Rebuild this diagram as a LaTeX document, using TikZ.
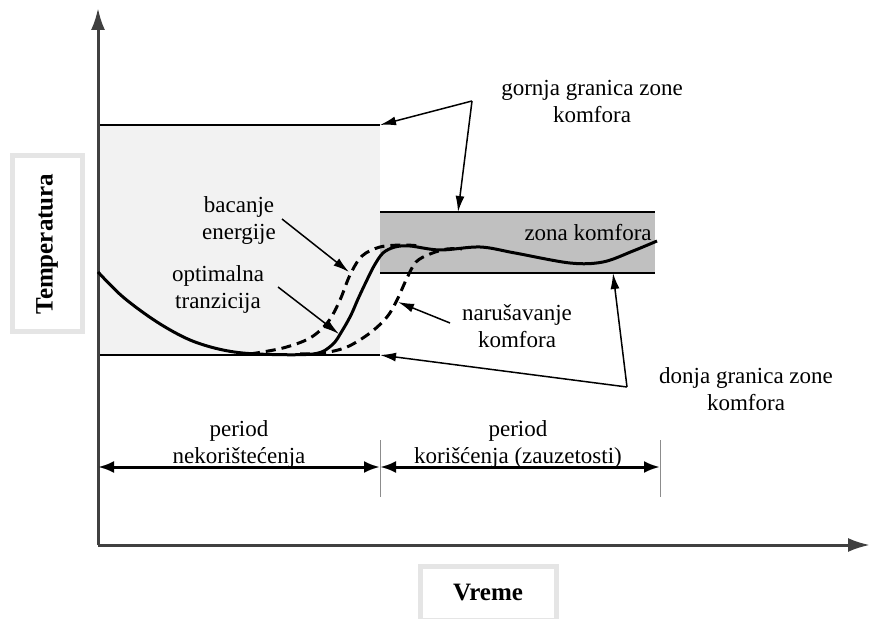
\documentclass[tikz,border=0pt]{standalone}
\usepackage{fontspec}
\setmainfont{Liberation Serif}
\usetikzlibrary{arrows.meta}
\definecolor{axisgray}{HTML}{404040}
\definecolor{idlegray}{HTML}{F2F2F2}
\definecolor{zonegray}{HTML}{C0C0C0}
\begin{document}
\begin{tikzpicture}[x=0.5pt,y=-0.5pt,
    txt/.style={align=center,inner sep=0pt,font=\fontsize{11.5}{13.5}\selectfont},
    axlabel/.style={draw=black!10,line width=2.5pt,fill=white,inner sep=0pt,font=\fontsize{12.5}{14}\selectfont\bfseries},
    axis/.style={-{Latex[length=11pt,width=7pt]},line width=1.5pt,color=axisgray},
    ptr/.style={-{Latex[length=8pt,width=4.5pt]},line width=0.75pt},
    perarrow/.style={{Latex[length=8pt,width=6pt]}-{Latex[length=8pt,width=6pt]},line width=1.5pt},
    bound/.style={line width=1pt},
    trend/.style={line width=1.5pt,line join=round}]
        \useasboundingbox (0,0) rectangle (871,619);

        % granice
        \coordinate (hiL) at (98,125);
        \coordinate (hiR) at (380,125);
        \coordinate (loL) at (98,355);
        \coordinate (loR) at (380,355);
        \coordinate (zhiL) at (380,212);
        \coordinate (zhiR) at (655,212);
        \coordinate (zloL) at (380,273);
        \coordinate (zloR) at (655,273);

        \fill[idlegray] (hiL) rectangle (loR);
        \fill[zonegray] (zhiL) rectangle (zloR);
        \draw[bound] (hiL) -- (hiR) (loL) -- (loR) (zhiL) -- (zhiR) (zloL) -- (zloR);

        % ose
        \coordinate (o) at (98,545);
        \coordinate (ytop) at (98,8);
        \coordinate (xend) at (870,545);
        \draw[axis] (o) -- (ytop);
        \draw[axis] (o) -- (xend);

        \node (temp) at (47,244) [axlabel,minimum width=88pt,minimum height=35pt,rotate=90] {Temperatura};
        \node (vreme) at (488,593) [axlabel,minimum width=68pt,minimum height=27pt] {Vreme};

        % krive
        \draw[trend] plot[smooth,tension=0.55] coordinates {(98,272) (123,297) (157,322) (190,340) (223,350) (257,354) (313,354) (332,345) (342,331) (351,315) (358,299) (366,282) (374,266) (383,253) (395,247) (410,246) (440,250) (480,247) (515,253) (570,263) (603,262) (633,251) (657,241)};
        \draw[trend,dash pattern=on 5pt off 3pt] plot[smooth,tension=0.55] coordinates {(250,354) (283,348) (310,338) (328,322) (340,300) (350,275) (362,256) (380,247) (403,245) (420,246)};
        \draw[trend,dash pattern=on 5pt off 3pt] plot[smooth,tension=0.55] coordinates {(300,354) (323,353) (347,347) (370,333) (387,317) (397,300) (407,278) (416,262) (430,254) (447,249) (462,249)};

        % tekst
        \node (gornja) at (592,102) [txt] {gornja granica zone\\komfora};
        \node (donja) at (746,389) [txt] {donja granica zone\\komfora};
        \node (bacanje) at (239,221) [txt] {bacanje\\energije};
        \node (optimal) at (218,289) [txt] {optimalna\\tranzicija};
        \node (narus) at (517,326) [txt] {naru\v{s}avanje\\komfora};
        \node (zona) at (652,233) [txt,anchor=east] {zona komfora};
        \node (nekor) at (239,444) [txt] {period\\nekori\v{s}te\'{c}enja};
        \node (koris) at (518,444) [txt] {period\\kori\v{s}\'{c}enja (zauzetosti)};

        % strelice
        \coordinate (gk) at (472,101);
        \coordinate (gtip) at (458,212);
        \coordinate (dk) at (627,387);
        \coordinate (dtip) at (613,273);
        \coordinate (bs) at (282,219);
        \coordinate (bt) at (349,272);
        \coordinate (os) at (278,287);
        \coordinate (ot) at (339,334);
        \coordinate (ns) at (450,323);
        \coordinate (nt) at (398,302);

        \draw[ptr] (gk) -- (hiR);
        \draw[ptr] (gk) -- (gtip);
        \draw[ptr] (dk) -- (dtip);
        \draw[ptr] (dk) -- (loR);
        \draw[ptr] (bs) -- (bt);
        \draw[ptr] (os) -- (ot);
        \draw[ptr] (ns) -- (nt);

        % periodi
        \coordinate (p0) at (98,467);
        \coordinate (p1) at (380,467);
        \coordinate (p2) at (660,467);
        \draw[black!45,line width=0.5pt] (380,440) -- (380,497) (660,440) -- (660,497);
        \draw[perarrow] (p0) -- (p1);
        \draw[perarrow] (p1) -- (p2);

        \end{tikzpicture}
\end{document}
